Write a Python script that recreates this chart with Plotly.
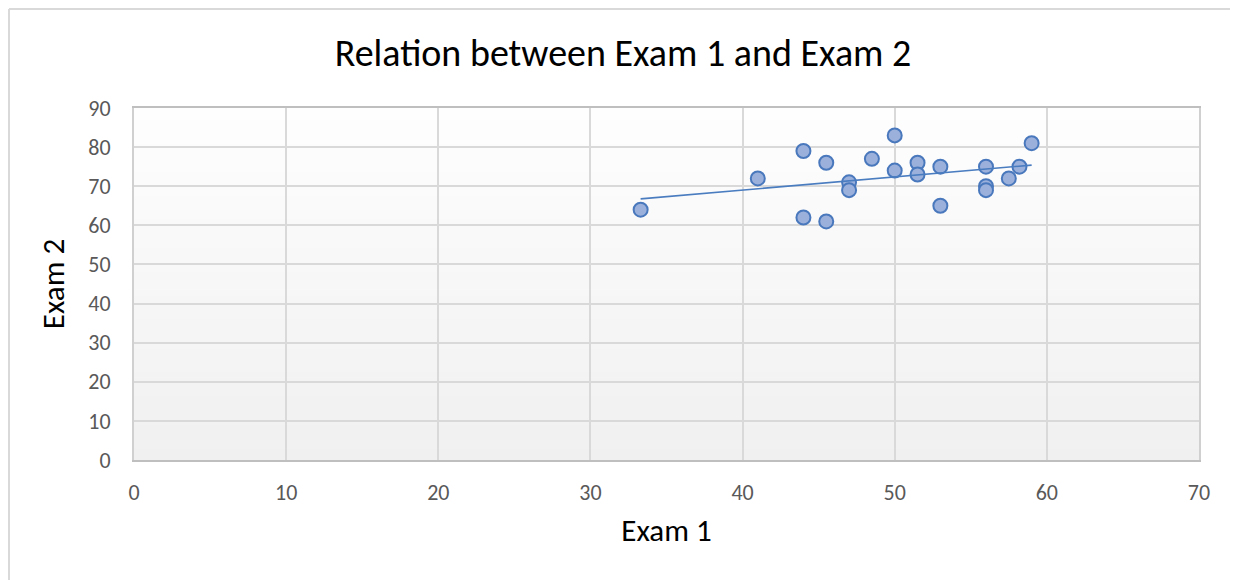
import numpy as np
import plotly.graph_objects as go

exam1 = [33.3, 41, 44, 44, 45.5, 45.5, 47, 47, 48.5, 50, 50, 51.5, 51.5, 53, 53, 56, 56, 56, 57.5, 58.2, 59]
exam2 = [64, 72, 79, 62, 76, 61, 71, 69, 77, 83, 74, 76, 73, 75, 65, 75, 70, 69, 72, 75, 81]
x_ticks = [0, 10, 20, 30, 40, 50, 60, 70]
y_ticks = [0, 10, 20, 30, 40, 50, 60, 70, 80, 90]

W, H = 1238, 580
L, R, T, B = 126, 47, 100, 128

slope, intercept = np.polyfit(exam1, exam2, 1)
tx = [min(exam1), max(exam1)]
ty = [slope * v + intercept for v in tx]

fig = go.Figure()

fig.add_trace(go.Scatter(
    x=exam1, y=exam2, mode="markers",
    marker=dict(size=14, color="#9bb1dc", line=dict(color="#4a78bd", width=2)),
    showlegend=False,
))

fig.add_trace(go.Scatter(
    x=tx, y=ty, mode="lines",
    line=dict(color="#4a7cc0", width=1.6),
    showlegend=False,
))

font_fam = "Carlito, Lato, Open Sans, sans-serif"

# vertical gradient background (bands below gridlines)
shapes = []
nb = 60
for i in range(nb):
    t = (i + 0.5) / nb
    c = int(round(240 + (254 - 240) * t))
    shapes.append(dict(type="rect", xref="x domain", yref="y domain",
                       x0=0, x1=1, y0=i / nb, y1=(i + 1) / nb + 0.002,
                       fillcolor=f"rgb({c},{c},{c})", line=dict(width=0), layer="below"))
# chart-area border (left & top edges visible)
shapes.append(dict(type="line", xref="paper", yref="paper",
                   x0=(1 - L) / (W - L - R), x1=(1 - L) / (W - L - R),
                   y0=-B / (H - T - B), y1=1 + (T - 1) / (H - T - B),
                   line=dict(color="#d9d9d9", width=2)))
shapes.append(dict(type="line", xref="paper", yref="paper",
                   x0=(1 - L) / (W - L - R), x1=(W - L) / (W - L - R),
                   y0=1 + (T - 1) / (H - T - B), y1=1 + (T - 1) / (H - T - B),
                   line=dict(color="#d9d9d9", width=2)))

fig.update_layout(
    width=W, height=H,
    margin=dict(l=L, r=R, t=T, b=B),
    paper_bgcolor="white",
    plot_bgcolor="rgba(0,0,0,0)",
    title=dict(text="Relation between Exam 1 and Exam 2", x=(325 - 0) / W + 0.5 * 580 / W, xanchor="center",
               y=1 - 45 / H, yanchor="middle",
               font=dict(family=font_fam, size=38, color="#000000")),
    xaxis=dict(range=[x_ticks[0], x_ticks[-1]], tickvals=x_ticks, ticks="",
               showgrid=True, gridcolor="#d9d9d9", gridwidth=2,
               showline=True, linecolor="#bfbfbf", linewidth=2, mirror=True,
               zeroline=False, ticklabelstandoff=12,
               tickfont=dict(family=font_fam, size=22, color="#595959"),
               title=dict(text="Exam 1", font=dict(family=font_fam, size=31, color="#000000"), standoff=14)),
    yaxis=dict(range=[y_ticks[0], y_ticks[-1]], tickvals=y_ticks, ticks="",
               showgrid=True, gridcolor="#d9d9d9", gridwidth=2,
               showline=True, linecolor="#d0d0d0", linewidth=2, mirror=True,
               zeroline=False,
               tickfont=dict(family=font_fam, size=22, color="#595959"),
               ticklabelstandoff=17,
               title=dict(text="Exam 2", font=dict(family=font_fam, size=31, color="#000000"), standoff=14)),
    shapes=shapes,
)

fig.write_html("out.html")
